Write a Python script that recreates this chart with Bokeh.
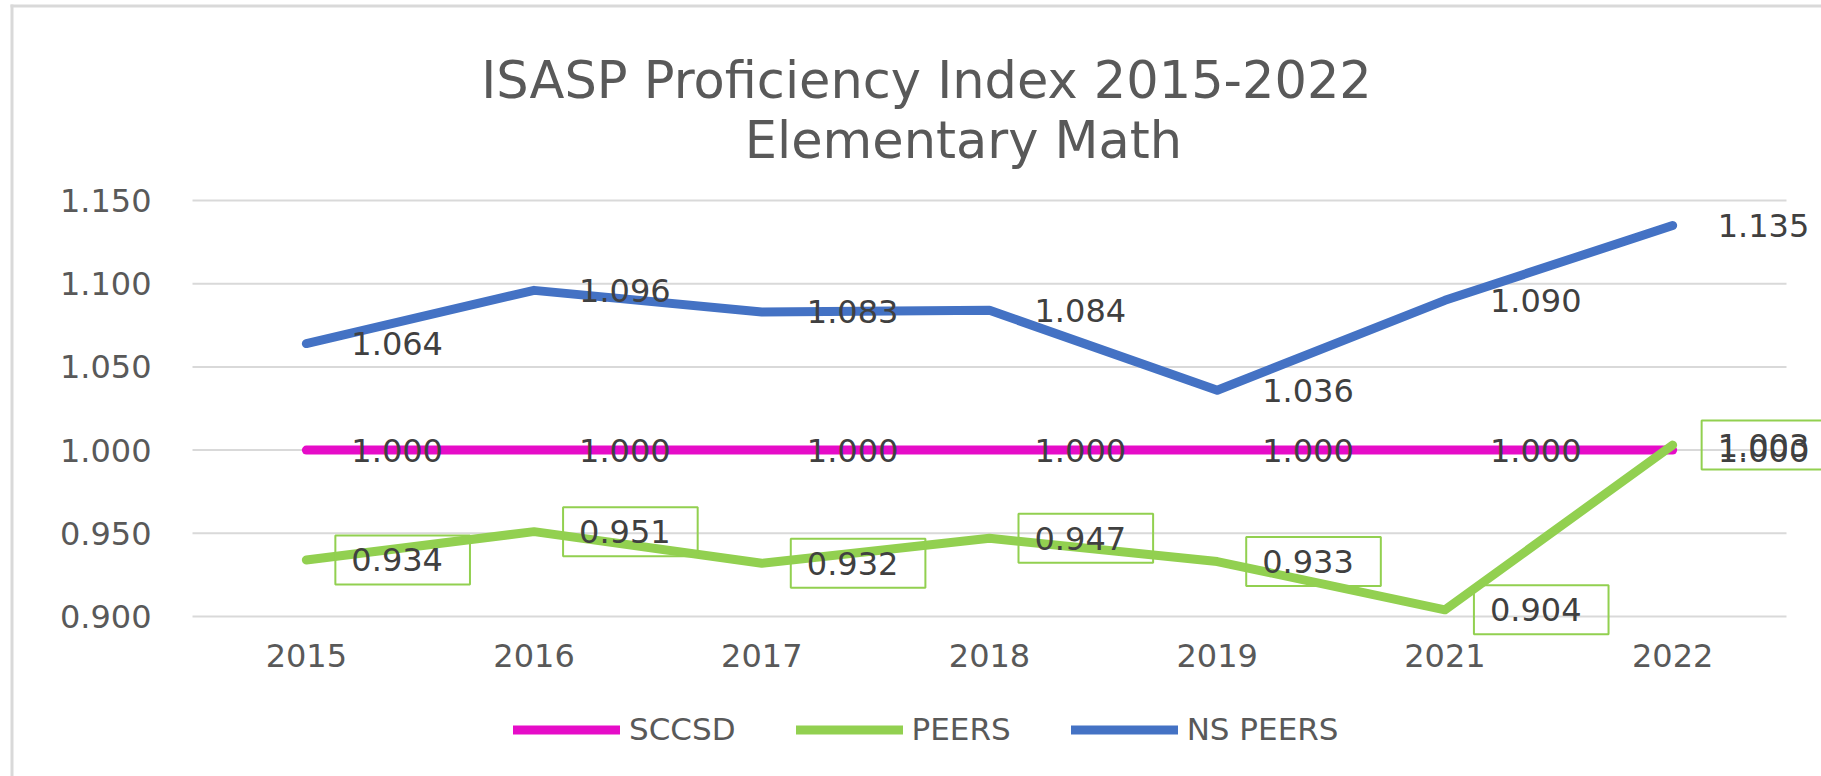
from bokeh.plotting import figure
from bokeh.models import (Range1d, FixedTicker, PrintfTickFormatter, Label,
                          Legend, LegendItem, BoxAnnotation)
from bokeh.embed import file_html
from bokeh.resources import INLINE

# ---- data ----
years = ["2015", "2016", "2017", "2018", "2019", "2021", "2022"]
sccsd = [1.000, 1.000, 1.000, 1.000, 1.000, 1.000, 1.000]
peers = [0.934, 0.951, 0.932, 0.947, 0.933, 0.904, 1.003]
ns_peers = [1.064, 1.096, 1.083, 1.084, 1.036, 1.090, 1.135]
y_ticks = [0.900, 0.950, 1.000, 1.050, 1.100, 1.150]
series_names = ["SCCSD", "PEERS", "NS PEERS"]
title_lines = ["ISASP Proficiency Index 2015-2022", "Elementary Math"]

# ---- styles ----
FONT = "DejaVu Sans"
C_SCCSD = "#E60CC8"
C_PEERS = "#92D050"
C_NS = "#4472C4"
GRID = "#D9D9D9"
TICK_COLOR = "#595959"
LABEL_COLOR = "#404040"
LW = 9

W, H = 1821, 776
xs = list(range(len(years)))
n = len(years)

# pixel layout of the plotting area inside the canvas
PLOT_LEFT, PLOT_RIGHT = 192.0, 1786.0
Y_LO_PX = 616.0          # pixel row of the lowest tick
PX_PER_UNIT_Y = 416.0 / (y_ticks[-1] - y_ticks[0])
px_per_x = (PLOT_RIGHT - PLOT_LEFT) / n
x_start = -0.5 - PLOT_LEFT / px_per_x
x_end = -0.5 + (W - PLOT_LEFT) / px_per_x
y_start = y_ticks[0] - (H - Y_LO_PX) / PX_PER_UNIT_Y
y_end = y_ticks[0] + Y_LO_PX / PX_PER_UNIT_Y

p = figure(width=W, height=H, output_backend="svg", toolbar_location=None,
           x_range=Range1d(x_start, x_end), y_range=Range1d(y_start, y_end),
           min_border=0)
p.outline_line_color = None
p.background_fill_color = "white"
p.border_fill_color = "white"
p.xgrid.grid_line_color = None
p.ygrid.grid_line_color = None

# axes drawn inside the canvas at fixed data locations
p.xaxis.fixed_location = y_ticks[0]
p.yaxis.fixed_location = -0.5
p.xaxis.ticker = FixedTicker(ticks=xs)
p.xaxis.major_label_overrides = {i: y for i, y in enumerate(years)}
p.yaxis.ticker = FixedTicker(ticks=y_ticks)
p.yaxis.formatter = PrintfTickFormatter(format="%.3f")
for ax in (p.xaxis, p.yaxis):
    ax.axis_line_color = None
    ax.major_tick_line_color = None
    ax.minor_tick_line_color = None
    ax.major_tick_out = 0
    ax.major_tick_in = 0
    ax.major_label_text_font = FONT
    ax.major_label_text_font_size = "32px"
    ax.major_label_text_color = TICK_COLOR
p.xaxis.major_label_standoff = 27
p.yaxis.major_label_standoff = 41

# horizontal gridlines across the category span
p.segment(x0=[-0.5] * len(y_ticks), x1=[n - 0.5] * len(y_ticks),
          y0=y_ticks, y1=y_ticks, line_color=GRID, line_width=2)

# lines
r_sccsd = p.line(xs, sccsd, line_color=C_SCCSD, line_width=LW,
                 line_cap="round", line_join="round")
r_peers = p.line(xs, peers, line_color=C_PEERS, line_width=LW,
                 line_cap="round", line_join="round")
r_ns = p.line(xs, ns_peers, line_color=C_NS, line_width=LW,
              line_cap="round", line_join="round")

# data labels
for x, v in zip(xs, sccsd):
    p.add_layout(Label(x=x, y=v, text=f"{v:.3f}", x_offset=45,
                       text_align="left", text_baseline="middle",
                       text_font=FONT, text_font_size="32px",
                       text_color=LABEL_COLOR))
for x, v in zip(xs, ns_peers):
    p.add_layout(Label(x=x, y=v, text=f"{v:.3f}", x_offset=45,
                       text_align="left", text_baseline="middle",
                       text_font=FONT, text_font_size="32px",
                       text_color=LABEL_COLOR))
for x, v in zip(xs, peers):
    p.add_layout(Label(x=x, y=v, text=f"{v:.3f}", x_offset=29,
                       text_align="left", text_baseline="middle",
                       text_font=FONT, text_font_size="32px",
                       text_color=LABEL_COLOR,
                       border_line_color=C_PEERS, border_line_width=2,
                       padding=dict(left=16, right=27, top=13, bottom=13)))

# title (two centred lines), screen units from bottom-left of the canvas
p.add_layout(Label(x=926, y=H - 80, x_units="screen", y_units="screen",
                   text=title_lines[0], text_align="center",
                   text_baseline="alphabetic", text_font=FONT,
                   text_font_size="51px", text_color=TICK_COLOR))
p.add_layout(Label(x=963, y=H - 140, x_units="screen", y_units="screen",
                   text=title_lines[1], text_align="center",
                   text_baseline="alphabetic", text_font=FONT,
                   text_font_size="51px", text_color=TICK_COLOR))

# chart-area border (left and top edges)
p.add_layout(BoxAnnotation(left=10, right=13, bottom=0, top=H - 4,
                           left_units="screen", right_units="screen",
                           bottom_units="screen", top_units="screen",
                           fill_color=GRID, fill_alpha=1.0, line_color=None))
p.add_layout(BoxAnnotation(left=10, right=W, bottom=H - 7, top=H - 4,
                           left_units="screen", right_units="screen",
                           bottom_units="screen", top_units="screen",
                           fill_color=GRID, fill_alpha=1.0, line_color=None))

# legend
legend = Legend(items=[LegendItem(label=series_names[0], renderers=[r_sccsd]),
                       LegendItem(label=series_names[1], renderers=[r_peers]),
                       LegendItem(label=series_names[2], renderers=[r_ns])],
                orientation="horizontal", location=(513, 29),
                glyph_width=107, glyph_height=35, label_height=35,
                label_standoff=9, spacing=60, padding=0, margin=0,
                border_line_color=None, background_fill_alpha=0,
                label_text_font=FONT, label_text_font_size="31px",
                label_text_color=TICK_COLOR)
p.add_layout(legend)

open("out.html", "w").write(file_html(p, INLINE))
